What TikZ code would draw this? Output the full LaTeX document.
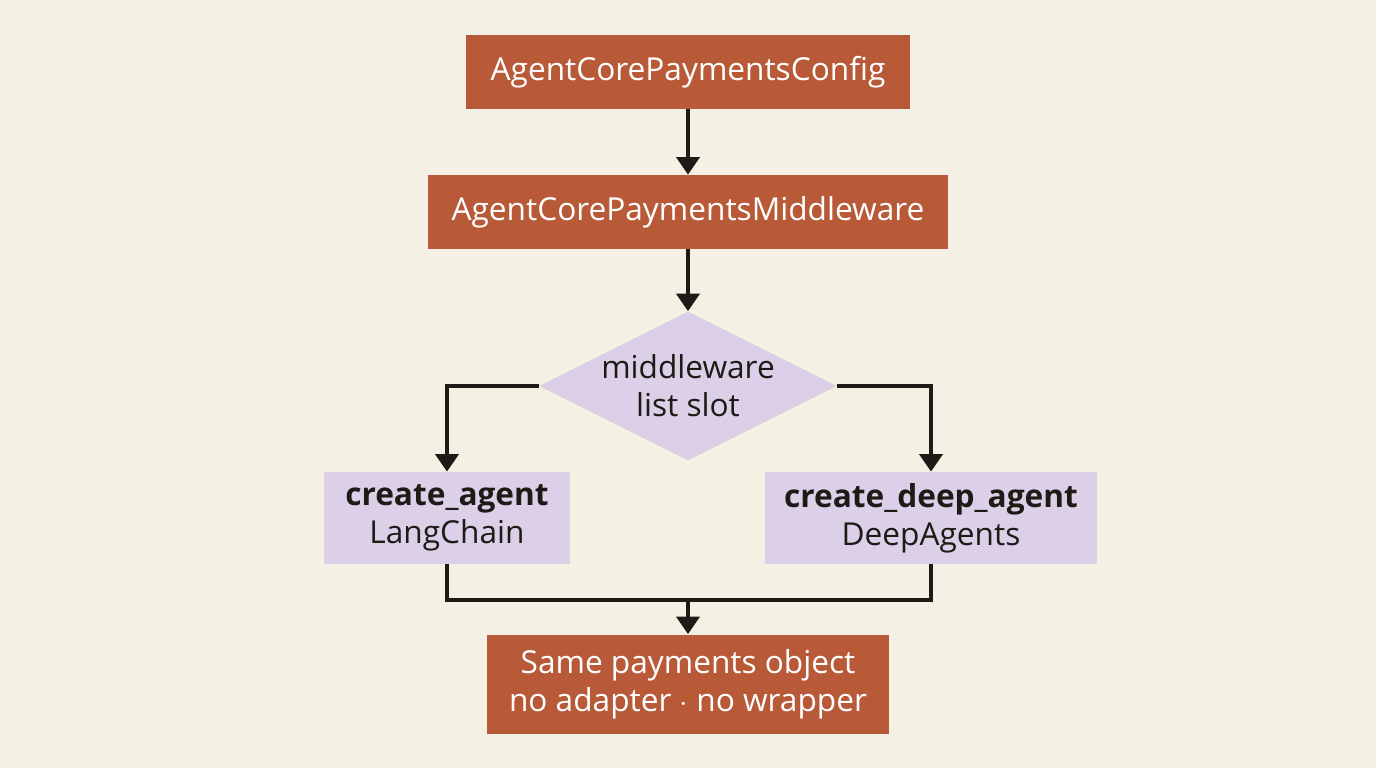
\documentclass[tikz,border=0pt]{standalone}
\usepackage{fontspec}
\setmainfont{Open Sans}
\usetikzlibrary{shapes.geometric,positioning,arrows.meta}
\definecolor{bgcol}{HTML}{F4F0E4}
\definecolor{rust}{HTML}{B85A38}
\definecolor{lilac}{HTML}{DCCFE8}
\definecolor{ink}{HTML}{1E1A16}

\begin{document}
\begin{tikzpicture}[x=0.02cm,y=-0.02cm,
	every node/.style={font=\fontsize{18}{21.5}\selectfont,align=center},
	stage/.style={rectangle,fill=rust,text=white,minimum height=1.48cm,inner sep=0pt},
	api/.style={rectangle,fill=lilac,text=ink,minimum height=1.84cm,inner sep=0pt},
	flow/.style={draw=ink,line width=2.8pt,-{Triangle[length=10pt,width=13pt]}}]

		\fill[bgcol] (0,0) rectangle (1376,768);
		\useasboundingbox (0,0) rectangle (1376,768);

		\node[stage,minimum width=8.88cm] (config) at (688,72) {AgentCorePaymentsConfig};
		\node[stage,minimum width=10.4cm] (mw) at (688,212) {AgentCorePaymentsMiddleware};
		\node[diamond,fill=lilac,text=ink,aspect=2,minimum width=5.64cm,minimum height=2.8cm,inner sep=0pt] (slot) at (688,386) {middleware\\list slot};
		\node[api,minimum width=4.92cm] (lc) at (447,518) {\textbf{create\_agent}\\LangChain};
		\node[api,minimum width=6.64cm] (da) at (931,518) {\textbf{create\_deep\_agent}\\DeepAgents};
		\node[stage,minimum width=8.06cm,minimum height=1.98cm] (obj) at (688,684) {Same payments object\\no adapter $\cdot$ no wrapper};
		\coordinate (join) at (688,600);

		\draw[flow] (config) -- (mw);
		\draw[flow] (mw) -- (slot);
		\draw[flow] (slot.west) -| (lc.north);
		\draw[flow] (slot.east) -| (da.north);
		\draw[draw=ink,line width=2.8pt] (lc.south) |- (join);
		\draw[draw=ink,line width=2.8pt] (da.south) |- (join);
		\draw[flow] (join) -- (obj);

	\end{tikzpicture}
\end{document}
